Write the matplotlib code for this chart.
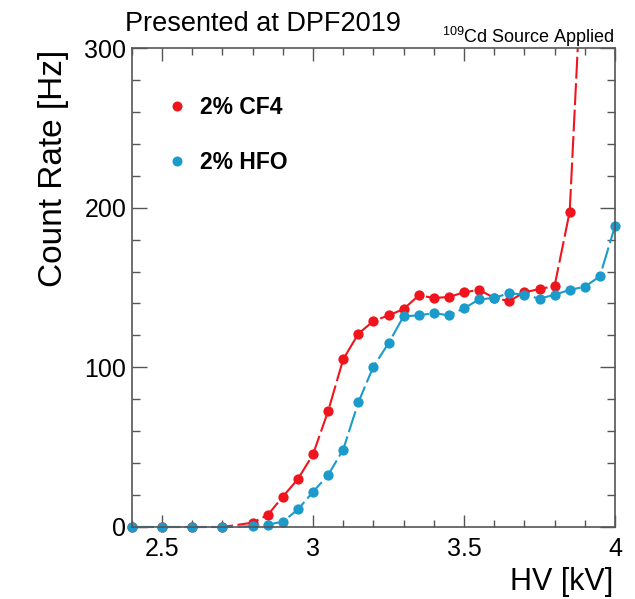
import matplotlib
matplotlib.use("Agg")
import matplotlib.pyplot as plt
from matplotlib.ticker import MultipleLocator
from matplotlib.transforms import Bbox, TransformedBbox
from matplotlib.lines import Line2D

plt.rcParams['font.family'] = ['Liberation Sans', 'DejaVu Sans']

# Data
hv_cf4 = [2.4, 2.5, 2.6, 2.7, 2.8, 2.85, 2.9, 2.95, 3.0, 3.05, 3.1, 3.15, 3.2,
          3.25, 3.3, 3.35, 3.4, 3.45, 3.5, 3.55, 3.6, 3.65, 3.7, 3.75, 3.8, 3.85, 3.9]
rate_cf4 = [0, 0, 0, 0, 2.7, 7.5, 19, 30, 45.5, 72.5, 105, 121, 129,
            132.5, 136.5, 145, 143.5, 144, 147, 148.5, 143.5, 141.5, 147, 149, 151, 197.5, 390]

hv_hfo = [2.4, 2.5, 2.6, 2.7, 2.8, 2.85, 2.9, 2.95, 3.0, 3.05, 3.1, 3.15, 3.2,
          3.25, 3.3, 3.35, 3.4, 3.45, 3.5, 3.55, 3.6, 3.65, 3.7, 3.75, 3.8, 3.85, 3.9, 3.95, 4.0]
rate_hfo = [0, 0, 0, 0, 0.5, 1.5, 3.3, 11, 22, 32.5, 48.5, 78, 100.5,
            115, 132, 132.5, 134, 132.5, 137, 142.5, 143.5, 146.5, 145.5, 143, 145.5, 148.5, 150.5, 157, 188.5]

labels = ["2% CF4", "2% HFO"]
colors = ["#f0141c", "#1a9bcb"]

W, H = 635, 599
fig = plt.figure(figsize=(W / 100, H / 100), dpi=100)
ax = fig.add_axes([131.8 / W, 1 - 527 / H, (615 - 131.8) / W, (527 - 48) / H])

clip = TransformedBbox(Bbox([[-0.05, -0.05], [1.05, 1.0]]), ax.transAxes)
for x, y, c, lab in [(hv_cf4, rate_cf4, colors[0], labels[0]),
                     (hv_hfo, rate_hfo, colors[1], labels[1])]:
    ln, = ax.plot(x, y, color=c, lw=1.5, ls=(0, (10.5, 2.2)), marker='o', ms=7.4,
                  markeredgewidth=0, label=lab)
    ln.set_clip_box(clip)

ax.set_xlim(2.4, 4.0)
ax.set_ylim(0, 300)
ax.xaxis.set_major_locator(MultipleLocator(0.5))
ax.xaxis.set_minor_locator(MultipleLocator(0.1))
ax.yaxis.set_major_locator(MultipleLocator(100))
ax.yaxis.set_minor_locator(MultipleLocator(20))
ax.xaxis.set_major_formatter(matplotlib.ticker.FuncFormatter(lambda v, p: f"{v:g}"))

axc = '#555555'
for s in ax.spines.values():
    s.set_color(axc)
    s.set_linewidth(1.2)
ax.tick_params(which='both', direction='in', top=True, right=True, color=axc, width=1.0,
               labelsize=18)
ax.tick_params(axis='y', which='major', length=11, pad=4)
ax.tick_params(axis='y', which='minor', length=6)
ax.tick_params(axis='x', which='major', length=9, pad=7)
ax.tick_params(axis='x', which='minor', length=5)

# Legend
lh = [Line2D([], [], color=c, marker='o', ls='none', ms=7.2, markeredgewidth=0) for c in colors]
leg = ax.legend(lh, labels, loc='upper left', bbox_to_anchor=(170 / W, 1 - 96 / H),
                bbox_transform=fig.transFigure, frameon=False,
                prop={'weight': 'bold', 'size': 16.5}, handlelength=0.6,
                handletextpad=0.72, labelspacing=1.4, borderaxespad=0, borderpad=0)

# Axis titles
fig.text(62 / W, 1 - 50 / H, "Count Rate [Hz]", rotation=90, rotation_mode='anchor',
         ha='right', va='baseline', fontsize=24)
fig.text(613 / W, 1 - 590 / H, "HV [kV]", ha='right', va='baseline', fontsize=22)

# Annotations
fig.text(125 / W, 1 - 31 / H, "Presented at DPF2019", ha='left', va='baseline', fontsize=19.5)
fig.text(615 / W, 1 - 43 / H, r"$^{\mathregular{109}}$Cd Source Applied", ha='right',
         va='baseline', fontsize=13)

fig.savefig("out.png", dpi=100)
